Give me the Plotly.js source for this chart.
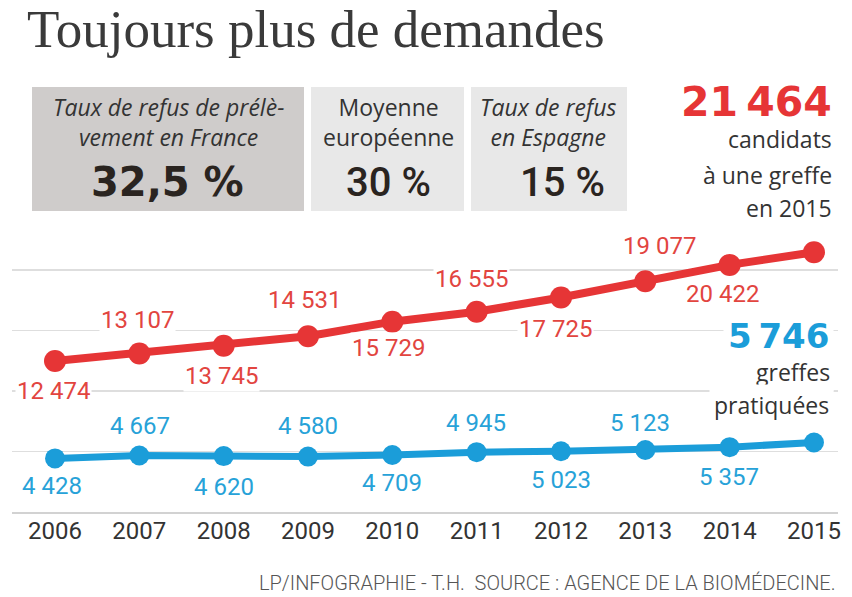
<!DOCTYPE html>
<html>
<head>
<meta charset="utf-8">
<script src="https://cdn.plot.ly/plotly-3.0.1.min.js"></script>
<style>html,body{margin:0;padding:0;background:#fff;}</style>
</head>
<body>
<div id="chart" style="width:852px;height:597px;"></div>
<script>
// ---- data ----
const years = [2006, 2007, 2008, 2009, 2010, 2011, 2012, 2013, 2014, 2015];
const candidats = [12474, 13107, 13745, 14531, 15729, 16555, 17725, 19077, 20422, 21464];
const greffes = [4428, 4667, 4620, 4580, 4709, 4945, 5023, 5123, 5357, 5746];
const boxTitles = ['<i>Taux de refus de prélè-</i><br><i>vement en France</i>', 'Moyenne<br>européenne', '<i>Taux de refus</i><br><i>en Espagne</i>'];
const boxValues = ['32,5 %', '30 %', '15 %'];
const titleText = 'Toujours plus de demandes';
const sourceText = 'LP/INFOGRAPHIE - T.H.  SOURCE : AGENCE DE LA BIOMÉDECINE.';

// ---- styling / label placement (pixels) ----
const RED = '#e63536', BLUE = '#1b9dd9';
const RED_TXT = '#e2453f', BLUE_TXT = '#27a2d8';
const redDy = [30, -33, 30, -36, 26, -33, 31, -35, 29];   // + = below point
const redDx = [-2, -2, -2, -3, -4, -5, -5, 14, -7];
const blueDy = [28, -30, 31, -31, 28, -29, 29, -27, 30];
const blueDx = [-3, 1, 0, 0, 0, -1, 0, -5, -1];

const W = 852, H = 597;
const M = {l: 12, r: 14, t: 230, b: 85};
const PW = W - M.l - M.r, PH = H - M.t - M.b;
const px = x => (x - M.l) / PW;          // pixel -> paper
const py = y => (H - M.b - y) / PH;

const fmt = v => String(v).replace(/\B(?=(\d{3})+(?!\d))/g, ' ');
const fmtThin = v => String(v).replace(/\B(?=(\d{3})+(?!\d))/g, '\u2009');

const LBL = 'Roboto, sans-serif';
const SANS = '"Open Sans", sans-serif';
const BOLD = '"DejaVu Sans", sans-serif';

const annotations = [];

// data labels
for (let i = 0; i < years.length - 1; i++) {
  annotations.push({x: years[i], y: candidats[i], xref: 'x', yref: 'y', text: fmt(candidats[i]),
    showarrow: false, xshift: redDx[i], yshift: -redDy[i], bgcolor: '#fff', borderpad: 1,
    font: {family: LBL, size: 24, color: RED_TXT}});
  annotations.push({x: years[i], y: greffes[i], xref: 'x', yref: 'y', text: fmt(greffes[i]),
    showarrow: false, xshift: blueDx[i], yshift: -blueDy[i], bgcolor: '#fff', borderpad: 1,
    font: {family: LBL, size: 24, color: BLUE_TXT}});
}

const last = years.length - 1;
// right side callouts
function rtext(text, y, font, pad) {
  annotations.push({xref: 'paper', yref: 'paper', x: px(834), y: py(y), xanchor: 'right', yanchor: 'middle',
    text: text, showarrow: false, font: font, bgcolor: '#fff', borderpad: pad || 1});
}
rtext(fmtThin(candidats[last]), 102, {family: BOLD, size: 41, color: RED, weight: 'bold'});
rtext('candidats', 139, {family: SANS, size: 23, color: '#333'});
rtext('à une greffe', 175, {family: SANS, size: 23, color: '#333'});
rtext('en ' + years[last], 208, {family: SANS, size: 23, color: '#333'});
rtext(fmtThin(greffes[last]), 336, {family: BOLD, size: 34, color: BLUE, weight: 'bold'}, 4);
rtext('greffes', 372, {family: SANS, size: 23, color: '#333'}, 3);
rtext('pratiquées', 405, {family: SANS, size: 23, color: '#333'}, 4);

// boxes
const boxes = [[32, 304, '#cfcccb'], [311, 464, '#e8e8e8'], [471, 627, '#e8e8e8']];
const boxTitleX = [168, 388, 548];
const boxValX = [167, 388, 562];
const boxValFont = [
  {family: BOLD, size: 40, color: '#2a2420', weight: 'bold'},
  {family: LBL, size: 40, color: '#2a2420', weight: 500},
  {family: LBL, size: 40, color: '#2a2420', weight: 500}
];
const shapes = [];
boxes.forEach((b, i) => {
  shapes.push({type: 'rect', xref: 'paper', yref: 'paper', x0: px(b[0]), x1: px(b[1]), y0: py(211), y1: py(87),
    fillcolor: b[2], line: {width: 0}, layer: 'below'});
  annotations.push({xref: 'paper', yref: 'paper', x: px(boxTitleX[i]), y: py(122), xanchor: 'center', yanchor: 'middle',
    text: boxTitles[i], showarrow: false, font: {family: SANS, size: 23, color: '#333'}});
  annotations.push({xref: 'paper', yref: 'paper', x: px(boxValX[i]), y: py(182), xanchor: 'center', yanchor: 'middle',
    text: boxValues[i], showarrow: false, font: boxValFont[i]});
});

// source
annotations.push({xref: 'paper', yref: 'paper', x: px(838), y: py(583), xanchor: 'right', yanchor: 'middle',
  text: sourceText, showarrow: false, font: {family: LBL, size: 20, color: '#555', weight: 300}});

const traces = [
  {x: years, y: greffes, type: 'scatter', mode: 'lines+markers', line: {color: BLUE, width: 7},
   marker: {color: BLUE, size: 20}, hoverinfo: 'skip', cliponaxis: false},
  {x: years, y: candidats, type: 'scatter', mode: 'lines+markers', line: {color: RED, width: 8},
   marker: {color: RED, size: 22}, hoverinfo: 'skip', cliponaxis: false}
];

const k = 0.0121; // px per unit
const layout = {
  width: W, height: H,
  margin: M,
  paper_bgcolor: '#fff', plot_bgcolor: '#fff',
  showlegend: false,
  title: {text: titleText, x: 27 / W, xanchor: 'left', xref: 'container', y: 1 - 28 / H, yanchor: 'middle', yref: 'container',
    font: {family: '"Liberation Serif", serif', size: 53, color: '#3a3a3a'}},
  xaxis: {range: [2005.49, 2015.285], tickvals: years, ticktext: years.map(String), showgrid: false, zeroline: false,
    showline: true, linecolor: '#d2d2d2', linewidth: 2, ticks: '', ticklabelstandoff: -4,
    tickfont: {family: LBL, size: 24, color: '#333'}},
  yaxis: {range: [0, PH / k], tickvals: [5000, 10000, 15000, 20000], showticklabels: false, showgrid: true,
    gridcolor: '#dedede', gridwidth: 1.5, zeroline: false, showline: false},
  shapes: shapes,
  annotations: annotations
};

Plotly.newPlot('chart', traces, layout, {displayModeBar: false, staticPlot: true});
</script>
</body>
</html>
